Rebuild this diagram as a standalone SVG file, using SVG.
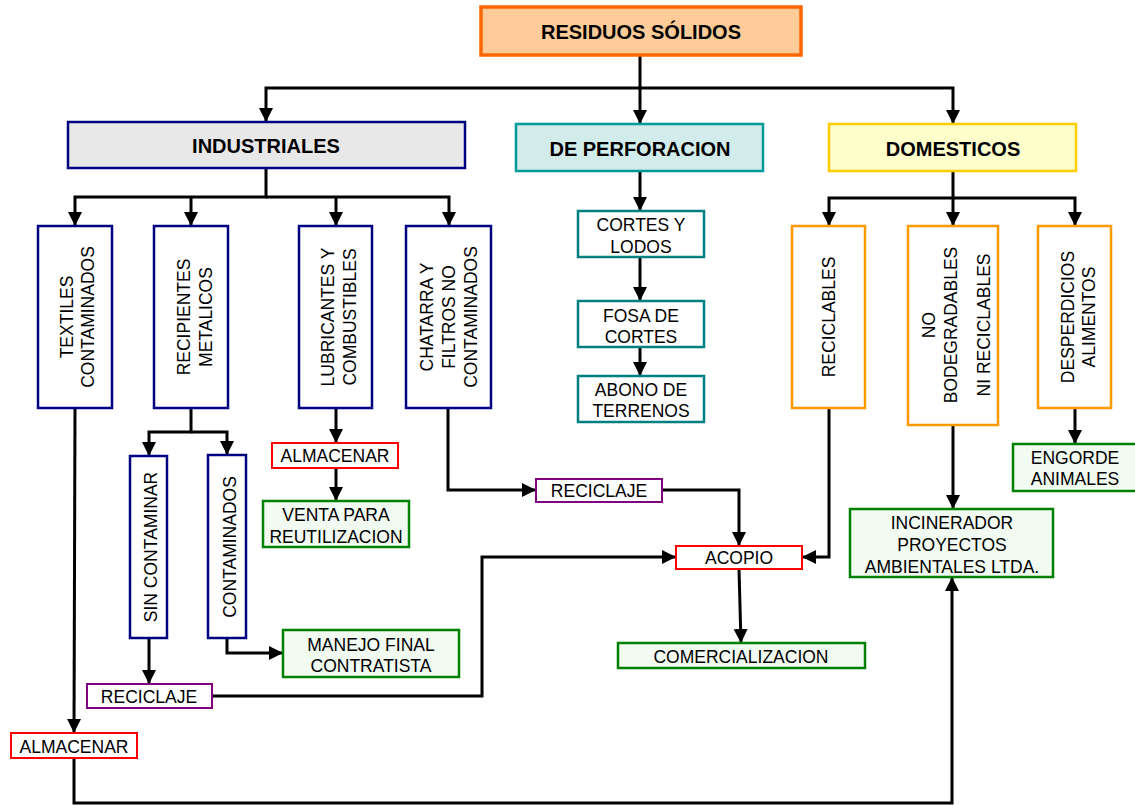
<svg xmlns="http://www.w3.org/2000/svg" width="1135" height="805" viewBox="0 0 1135 805">
<defs>
<marker id="ah" markerWidth="14" markerHeight="14" refX="14" refY="7" orient="auto" markerUnits="userSpaceOnUse">
<path d="M0,0 L14,7 L0,14 z" fill="#000"/>
</marker>
<style>
text{font-family:"Liberation Sans",Arial,sans-serif;fill:#000;text-anchor:middle}
.b{font-weight:bold;font-size:20px}
.r{font-size:17.5px}
.conn path{fill:none;stroke:#000;stroke-width:3}
.arr{marker-end:url(#ah)}
.navy{fill:#fff;stroke:#000080;stroke-width:2.5}
.teal{fill:#fff;stroke:#008080;stroke-width:2.5}
.orng{fill:#fff;stroke:#FF9900;stroke-width:2.5}
.red{fill:#fff;stroke:#FF0000;stroke-width:2}
.purp{fill:#fff;stroke:#800080;stroke-width:2}
.grn{fill:#F2FBF2;stroke:#008000;stroke-width:2.5}
</style>
</defs>
<rect width="1135" height="805" fill="#fff"/>

<g class="conn">
<path class="arr" d="M640,55 V124"/>
<path class="arr" d="M640,88 H266 V122"/>
<path class="arr" d="M640,88 H953 V124"/>
<path class="arr" d="M266,168 V197 H75 V226"/>
<path class="arr" d="M191,197 V226"/>
<path class="arr" d="M336,197 V226"/>
<path class="arr" d="M266,197 H449 V226"/>
<path class="arr" d="M640,171 V211"/>
<path class="arr" d="M640,257 V301"/>
<path class="arr" d="M640,347 V376"/>
<path class="arr" d="M953,171 V198 H829 V226"/>
<path class="arr" d="M953,198 V226"/>
<path class="arr" d="M953,198 H1075 V226"/>
<path class="arr" d="M75,408 L74,733"/>
<path class="arr" d="M191,408 V432 H149 V456"/>
<path class="arr" d="M191,432 H227 V455"/>
<path class="arr" d="M149,638 V684"/>
<path class="arr" d="M227,638 V653 H283"/>
<path class="arr" d="M336,408 V443"/>
<path class="arr" d="M336,468 V501"/>
<path class="arr" d="M448,408 V490 H536"/>
<path class="arr" d="M662,490 H739 V546"/>
<path class="arr" d="M212,696 H482 V557 H676"/>
<path class="arr" d="M829,408 V557 H802"/>
<path class="arr" d="M739,569 L741,643"/>
<path class="arr" d="M953,425 V509"/>
<path class="arr" d="M1075,408 V444"/>
<path class="arr" d="M74,758 V803 H952 V577"/>
</g>

<g id="residuos">
<rect x="481" y="7" width="320" height="48" fill="#FFCC99" stroke="#FF6600" stroke-width="3.5"/>
<text class="b" x="641" y="39">RESIDUOS SÓLIDOS</text>
</g>
<g id="industriales">
<rect x="68" y="122" width="397" height="46" fill="#E8E8E8" stroke="#000080" stroke-width="2.5"/>
<text class="b" x="266" y="153">INDUSTRIALES</text>
</g>
<g id="perforacion">
<rect x="516" y="124" width="247" height="47" fill="#D2EBEB" stroke="#009999" stroke-width="2.5"/>
<text class="b" x="640" y="156">DE PERFORACION</text>
</g>
<g id="domesticos">
<rect x="829" y="124" width="247" height="47" fill="#FFFFCC" stroke="#FFCC00" stroke-width="2.5"/>
<text class="b" x="953" y="156">DOMESTICOS</text>
</g>

<g id="textiles">
<rect class="navy" x="38" y="226" width="74" height="182"/>
<text class="r" transform="translate(73,317) rotate(-90)">TEXTILES</text>
<text class="r" transform="translate(94,317) rotate(-90)">CONTAMINADOS</text>
</g>
<g id="recipientes">
<rect class="navy" x="154" y="226" width="74" height="182"/>
<text class="r" transform="translate(190,317) rotate(-90)">RECIPIENTES</text>
<text class="r" transform="translate(212,317) rotate(-90)">METALICOS</text>
</g>
<g id="lubricantes">
<rect class="navy" x="299" y="226" width="73" height="182"/>
<text class="r" transform="translate(334,317) rotate(-90)">LUBRICANTES Y</text>
<text class="r" transform="translate(356,317) rotate(-90)">COMBUSTIBLES</text>
</g>
<g id="chatarra">
<rect class="navy" x="406" y="226" width="85" height="182"/>
<text class="r" transform="translate(433,317) rotate(-90)">CHATARRA Y</text>
<text class="r" transform="translate(455,317) rotate(-90)">FILTROS NO</text>
<text class="r" transform="translate(477,317) rotate(-90)">CONTAMINADOS</text>
</g>

<g id="sincontaminar">
<rect class="navy" x="130" y="456" width="37" height="182"/>
<text class="r" transform="translate(157,547) rotate(-90)">SIN CONTAMINAR</text>
</g>
<g id="contaminados">
<rect class="navy" x="208" y="455" width="38" height="183"/>
<text class="r" transform="translate(236,547) rotate(-90)">CONTAMINADOS</text>
</g>

<g id="almacenar1">
<rect class="red" x="272" y="443" width="126" height="25"/>
<text class="r" x="335" y="462">ALMACENAR</text>
</g>
<g id="venta">
<rect class="grn" x="263" y="501" width="146" height="46"/>
<text class="r" x="336" y="521">VENTA PARA</text>
<text class="r" x="336" y="543">REUTILIZACION</text>
</g>
<g id="manejo">
<rect class="grn" x="283" y="630" width="176" height="47"/>
<text class="r" x="371" y="651">MANEJO FINAL</text>
<text class="r" x="371" y="672">CONTRATISTA</text>
</g>
<g id="reciclaje1">
<rect class="purp" x="87" y="684" width="125" height="24"/>
<text class="r" x="149" y="703">RECICLAJE</text>
</g>
<g id="almacenar2">
<rect class="red" x="11" y="733" width="126" height="25"/>
<text class="r" x="74" y="753">ALMACENAR</text>
</g>

<g id="cortes">
<rect class="teal" x="578" y="211" width="126" height="46"/>
<text class="r" x="641" y="231">CORTES Y</text>
<text class="r" x="641" y="253">LODOS</text>
</g>
<g id="fosa">
<rect class="teal" x="578" y="301" width="126" height="46"/>
<text class="r" x="641" y="322">FOSA DE</text>
<text class="r" x="641" y="343">CORTES</text>
</g>
<g id="abono">
<rect class="teal" x="578" y="376" width="126" height="46"/>
<text class="r" x="641" y="396">ABONO DE</text>
<text class="r" x="641" y="417">TERRENOS</text>
</g>

<g id="reciclaje2">
<rect class="purp" x="536" y="479" width="126" height="23"/>
<text class="r" x="599" y="497">RECICLAJE</text>
</g>
<g id="acopio">
<rect class="red" x="676" y="546" width="126" height="23"/>
<text class="r" x="739" y="564">ACOPIO</text>
</g>
<g id="comercializacion">
<rect class="grn" x="618" y="643" width="247" height="25"/>
<text class="r" x="741" y="663">COMERCIALIZACION</text>
</g>

<g id="reciclables">
<rect class="orng" x="792" y="226" width="73" height="182"/>
<text class="r" transform="translate(835,317) rotate(-90)">RECICLABLES</text>
</g>
<g id="nobiodegradables">
<rect class="orng" x="908" y="226" width="90" height="199"/>
<text class="r" transform="translate(935,325) rotate(-90)">NO</text>
<text class="r" transform="translate(957,325) rotate(-90)">BODEGRADABLES</text>
<text class="r" transform="translate(990,325) rotate(-90)">NI RECICLABLES</text>
</g>
<g id="desperdicios">
<rect class="orng" x="1038" y="226" width="73" height="182"/>
<text class="r" transform="translate(1074,317) rotate(-90)">DESPERDICIOS</text>
<text class="r" transform="translate(1095,317) rotate(-90)">ALIMENTOS</text>
</g>
<g id="incinerador">
<rect class="grn" x="850" y="509" width="203" height="68"/>
<text class="r" x="952" y="529">INCINERADOR</text>
<text class="r" x="952" y="551">PROYECTOS</text>
<text class="r" x="952" y="573">AMBIENTALES LTDA.</text>
</g>
<g id="engorde">
<rect class="grn" x="1013" y="444" width="124" height="47"/>
<text class="r" x="1075" y="464">ENGORDE</text>
<text class="r" x="1075" y="485">ANIMALES</text>
</g>
</svg>
